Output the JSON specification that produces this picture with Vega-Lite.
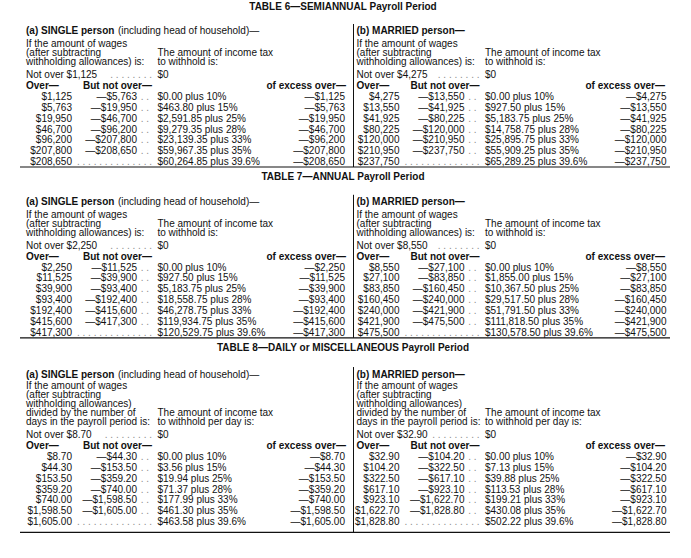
{
"$schema": "https://vega.github.io/schema/vega-lite/v6.json",
"width": 650, "height": 558, "autosize": "none",
"padding": {"left": 20, "right": 21, "top": 0, "bottom": 0},
"background": "white",
"config": {"view": {"stroke": null}, "text": {"font": "Liberation Sans", "fontSize": 10, "color": "#111", "baseline": "middle"}, "rule": {"color": "#111"}},
"datasets": {
"h": [
{"table":6,"status":"single","title":"TABLE 6—SEMIANNUAL Payroll Period","who":"(a) SINGLE person","who2":"(including head of household)—","wages":["If the amount of wages","(after subtracting","withholding allowances) is:"],"taxhdr":["The amount of income tax","to withhold is:"],"nov":"Not over $1,125","zero":"$0"},
{"table":6,"status":"married","title":"","who":"(b) MARRIED person—","who2":"","wages":["If the amount of wages","(after subtracting","withholding allowances) is:"],"taxhdr":["The amount of income tax","to withhold is:"],"nov":"Not over $4,275","zero":"$0"},
{"table":7,"status":"single","title":"TABLE 7—ANNUAL Payroll Period","who":"(a) SINGLE person","who2":"(including head of household)—","wages":["If the amount of wages","(after subtracting","withholding allowances) is:"],"taxhdr":["The amount of income tax","to withhold is:"],"nov":"Not over $2,250","zero":"$0"},
{"table":7,"status":"married","title":"","who":"(b) MARRIED person—","who2":"","wages":["If the amount of wages","(after subtracting","withholding allowances) is:"],"taxhdr":["The amount of income tax","to withhold is:"],"nov":"Not over $8,550","zero":"$0"},
{"table":8,"status":"single","title":"TABLE 8—DAILY or MISCELLANEOUS Payroll Period","who":"(a) SINGLE person","who2":"(including head of household)—","wages":["If the amount of wages","(after subtracting","withholding allowances)","divided by the number of","days in the payroll period is:"],"taxhdr":["The amount of income tax","to withhold per day is:"],"nov":"Not over $8.70","zero":"$0"},
{"table":8,"status":"married","title":"","who":"(b) MARRIED person—","who2":"","wages":["If the amount of wages"," (after subtracting","withholding allowances)","divided by the number of","days in the payroll period is:"],"taxhdr":["The amount of income tax","to withhold per day is:"],"nov":"Not over $32.90","zero":"$0"}
],
"b": [
{"table":6,"status":"single","bracket":1,"over":"$1,125","notover":"—$5,763","tax":"$0.00 plus 10%","excess":"—$1,125"},
{"table":6,"status":"single","bracket":2,"over":"$5,763","notover":"—$19,950","tax":"$463.80 plus 15%","excess":"—$5,763"},
{"table":6,"status":"single","bracket":3,"over":"$19,950","notover":"—$46,700","tax":"$2,591.85 plus 25%","excess":"—$19,950"},
{"table":6,"status":"single","bracket":4,"over":"$46,700","notover":"—$96,200","tax":"$9,279.35 plus 28%","excess":"—$46,700"},
{"table":6,"status":"single","bracket":5,"over":"$96,200","notover":"—$207,800","tax":"$23,139.35 plus 33%","excess":"—$96,200"},
{"table":6,"status":"single","bracket":6,"over":"$207,800","notover":"—$208,650","tax":"$59,967.35 plus 35%","excess":"—$207,800"},
{"table":6,"status":"single","bracket":7,"over":"$208,650","notover":"","tax":"$60,264.85 plus 39.6%","excess":"—$208,650"},
{"table":6,"status":"married","bracket":1,"over":"$4,275","notover":"—$13,550","tax":"$0.00 plus 10%","excess":"—$4,275"},
{"table":6,"status":"married","bracket":2,"over":"$13,550","notover":"—$41,925","tax":"$927.50 plus 15%","excess":"—$13,550"},
{"table":6,"status":"married","bracket":3,"over":"$41,925","notover":"—$80,225","tax":"$5,183.75 plus 25%","excess":"—$41,925"},
{"table":6,"status":"married","bracket":4,"over":"$80,225","notover":"—$120,000","tax":"$14,758.75 plus 28%","excess":"—$80,225"},
{"table":6,"status":"married","bracket":5,"over":"$120,000","notover":"—$210,950","tax":"$25,895.75 plus 33%","excess":"—$120,000"},
{"table":6,"status":"married","bracket":6,"over":"$210,950","notover":"—$237,750","tax":"$55,909.25 plus 35%","excess":"—$210,950"},
{"table":6,"status":"married","bracket":7,"over":"$237,750","notover":"","tax":"$65,289.25 plus 39.6%","excess":"—$237,750"},
{"table":7,"status":"single","bracket":1,"over":"$2,250","notover":"—$11,525","tax":"$0.00 plus 10%","excess":"—$2,250"},
{"table":7,"status":"single","bracket":2,"over":"$11,525","notover":"—$39,900","tax":"$927.50 plus 15%","excess":"—$11,525"},
{"table":7,"status":"single","bracket":3,"over":"$39,900","notover":"—$93,400","tax":"$5,183.75 plus 25%","excess":"—$39,900"},
{"table":7,"status":"single","bracket":4,"over":"$93,400","notover":"—$192,400","tax":"$18,558.75 plus 28%","excess":"—$93,400"},
{"table":7,"status":"single","bracket":5,"over":"$192,400","notover":"—$415,600","tax":"$46,278.75 plus 33%","excess":"—$192,400"},
{"table":7,"status":"single","bracket":6,"over":"$415,600","notover":"—$417,300","tax":"$119,934.75 plus 35%","excess":"—$415,600"},
{"table":7,"status":"single","bracket":7,"over":"$417,300","notover":"","tax":"$120,529.75 plus 39.6%","excess":"—$417,300"},
{"table":7,"status":"married","bracket":1,"over":"$8,550","notover":"—$27,100","tax":"$0.00 plus 10%","excess":"—$8,550"},
{"table":7,"status":"married","bracket":2,"over":"$27,100","notover":"—$83,850","tax":"$1,855.00 plus 15%","excess":"—$27,100"},
{"table":7,"status":"married","bracket":3,"over":"$83,850","notover":"—$160,450","tax":"$10,367.50 plus 25%","excess":"—$83,850"},
{"table":7,"status":"married","bracket":4,"over":"$160,450","notover":"—$240,000","tax":"$29,517.50 plus 28%","excess":"—$160,450"},
{"table":7,"status":"married","bracket":5,"over":"$240,000","notover":"—$421,900","tax":"$51,791.50 plus 33%","excess":"—$240,000"},
{"table":7,"status":"married","bracket":6,"over":"$421,900","notover":"—$475,500","tax":"$111,818.50 plus 35%","excess":"—$421,900"},
{"table":7,"status":"married","bracket":7,"over":"$475,500","notover":"","tax":"$130,578.50 plus 39.6%","excess":"—$475,500"},
{"table":8,"status":"single","bracket":1,"over":"$8.70","notover":"—$44.30","tax":"$0.00 plus 10%","excess":"—$8.70"},
{"table":8,"status":"single","bracket":2,"over":"$44.30","notover":"—$153.50","tax":"$3.56 plus 15%","excess":"—$44.30"},
{"table":8,"status":"single","bracket":3,"over":"$153.50","notover":"—$359.20","tax":"$19.94 plus 25%","excess":"—$153.50"},
{"table":8,"status":"single","bracket":4,"over":"$359.20","notover":"—$740.00","tax":"$71.37 plus 28%","excess":"—$359.20"},
{"table":8,"status":"single","bracket":5,"over":"$740.00","notover":"—$1,598.50","tax":"$177.99 plus 33%","excess":"—$740.00"},
{"table":8,"status":"single","bracket":6,"over":"$1,598.50","notover":"—$1,605.00","tax":"$461.30 plus 35%","excess":"—$1,598.50"},
{"table":8,"status":"single","bracket":7,"over":"$1,605.00","notover":"","tax":"$463.58 plus 39.6%","excess":"—$1,605.00"},
{"table":8,"status":"married","bracket":1,"over":"$32.90","notover":"—$104.20","tax":"$0.00 plus 10%","excess":"—$32.90"},
{"table":8,"status":"married","bracket":2,"over":"$104.20","notover":"—$322.50","tax":"$7.13 plus 15%","excess":"—$104.20"},
{"table":8,"status":"married","bracket":3,"over":"$322.50","notover":"—$617.10","tax":"$39.88 plus 25%","excess":"—$322.50"},
{"table":8,"status":"married","bracket":4,"over":"$617.10","notover":"—$923.10","tax":"$113.53 plus 28%","excess":"—$617.10"},
{"table":8,"status":"married","bracket":5,"over":"$923.10","notover":"—$1,622.70","tax":"$199.21 plus 33%","excess":"—$923.10"},
{"table":8,"status":"married","bracket":6,"over":"$1,622.70","notover":"—$1,828.80","tax":"$430.08 plus 35%","excess":"—$1,622.70"},
{"table":8,"status":"married","bracket":7,"over":"$1,828.80","notover":"","tax":"$502.22 plus 39.6%","excess":"—$1,828.80"}
]
},
"layer": [
{"layer": [
{"data":{"name":"h"},"transform":[{"filter":"datum.table==6 && datum.status=='single'"}],"mark":{"type":"text","align":"center","dx":317,"fontWeight":"bold"},"encoding":{"x":{"field":"status","type":"nominal","axis":null,"scale":{"type":"point","domain":["single","married"],"range":[6,333.5],"padding":0}},"y":{"datum":-7.2,"type":"quantitative","axis":null,"scale":{"domain":[1,7],"range":[96.7,162.3],"nice":false,"zero":false}},"text":{"field":"title"}}},
{"data":{"name":"h"},"transform":[{"filter":"datum.table==6 && datum.status=='single'"}],"mark":{"type":"text","align":"left","dx":0,"fontWeight":"bold"},"encoding":{"x":{"field":"status","type":"nominal","axis":null},"y":{"datum":-5.0,"type":"quantitative","axis":null},"text":{"field":"who"}}},
{"data":{"name":"h"},"transform":[{"filter":"datum.table==6 && datum.status=='married'"}],"mark":{"type":"text","align":"left","dx":3,"fontWeight":"bold"},"encoding":{"x":{"field":"status","type":"nominal","axis":null},"y":{"datum":-5.0,"type":"quantitative","axis":null},"text":{"field":"who"}}},
{"data":{"name":"h"},"transform":[{"filter":"datum.table==6 && datum.status=='single'"}],"mark":{"type":"text","align":"left","dx":92},"encoding":{"x":{"field":"status","type":"nominal","axis":null},"y":{"datum":-5.0,"type":"quantitative","axis":null},"text":{"field":"who2"}}},
{"data":{"name":"h"},"transform":[{"filter":"datum.table==6 && datum.status=='single'"}],"mark":{"type":"text","align":"left","dx":0,"lineHeight":9},"encoding":{"x":{"field":"status","type":"nominal","axis":null},"y":{"datum":-3.79,"type":"quantitative","axis":null},"text":{"field":"wages"}}},
{"data":{"name":"h"},"transform":[{"filter":"datum.table==6 && datum.status=='married'"}],"mark":{"type":"text","align":"left","dx":3,"lineHeight":9},"encoding":{"x":{"field":"status","type":"nominal","axis":null},"y":{"datum":-3.79,"type":"quantitative","axis":null},"text":{"field":"wages"}}},
{"data":{"name":"h"},"transform":[{"filter":"datum.table==6"}],"mark":{"type":"text","align":"left","dx":131.5,"lineHeight":9},"encoding":{"x":{"field":"status","type":"nominal","axis":null},"y":{"datum":-2.97,"type":"quantitative","axis":null},"text":{"field":"taxhdr"}}},
{"data":{"name":"h"},"transform":[{"filter":"datum.table==6 && datum.status=='single'"}],"mark":{"type":"text","align":"left","dx":0},"encoding":{"x":{"field":"status","type":"nominal","axis":null},"y":{"datum":-0.99,"type":"quantitative","axis":null},"text":{"field":"nov"}}},
{"data":{"name":"h"},"transform":[{"filter":"datum.table==6 && datum.status=='married'"}],"mark":{"type":"text","align":"left","dx":3},"encoding":{"x":{"field":"status","type":"nominal","axis":null},"y":{"datum":-0.99,"type":"quantitative","axis":null},"text":{"field":"nov"}}},
{"data":{"name":"h"},"transform":[{"filter":"datum.table==6"}],"mark":{"type":"text","align":"right","dx":126,"color":"#8c8c8c"},"encoding":{"x":{"field":"status","type":"nominal","axis":null},"y":{"datum":-0.99,"type":"quantitative","axis":null},"text":{"value":". . . . . . . ."}}},
{"data":{"name":"h"},"transform":[{"filter":"datum.table==6"}],"mark":{"type":"text","align":"left","dx":131.5},"encoding":{"x":{"field":"status","type":"nominal","axis":null},"y":{"datum":-0.99,"type":"quantitative","axis":null},"text":{"field":"zero"}}},
{"data":{"name":"h"},"transform":[{"filter":"datum.table==6 && datum.status=='single'"}],"mark":{"type":"text","align":"left","dx":0,"fontWeight":"bold"},"encoding":{"x":{"field":"status","type":"nominal","axis":null},"y":{"datum":0.02,"type":"quantitative","axis":null},"text":{"value":"Over—"}}},
{"data":{"name":"h"},"transform":[{"filter":"datum.table==6 && datum.status=='married'"}],"mark":{"type":"text","align":"left","dx":3,"fontWeight":"bold"},"encoding":{"x":{"field":"status","type":"nominal","axis":null},"y":{"datum":0.02,"type":"quantitative","axis":null},"text":{"value":"Over—"}}},
{"data":{"name":"h"},"transform":[{"filter":"datum.table==6"}],"mark":{"type":"text","align":"left","dx":57,"fontWeight":"bold"},"encoding":{"x":{"field":"status","type":"nominal","axis":null},"y":{"datum":0.02,"type":"quantitative","axis":null},"text":{"value":"But not over—"}}},
{"data":{"name":"h"},"transform":[{"filter":"datum.table==6 && datum.status=='single'"}],"mark":{"type":"text","align":"right","dx":320,"fontWeight":"bold"},"encoding":{"x":{"field":"status","type":"nominal","axis":null},"y":{"datum":0.02,"type":"quantitative","axis":null},"text":{"value":"of excess over—"}}},
{"data":{"name":"h"},"transform":[{"filter":"datum.table==6 && datum.status=='married'"}],"mark":{"type":"text","align":"right","dx":311.5,"fontWeight":"bold"},"encoding":{"x":{"field":"status","type":"nominal","axis":null},"y":{"datum":0.02,"type":"quantitative","axis":null},"text":{"value":"of excess over—"}}},
{"data":{"name":"b"},"transform":[{"filter":"datum.table==6"}],"mark":{"type":"text","align":"right","dx":46},"encoding":{"x":{"field":"status","type":"nominal","axis":null},"y":{"field":"bracket","type":"quantitative","axis":null},"text":{"field":"over"}}},
{"data":{"name":"b"},"transform":[{"filter":"datum.table==6"}],"mark":{"type":"text","align":"right","dx":111},"encoding":{"x":{"field":"status","type":"nominal","axis":null},"y":{"field":"bracket","type":"quantitative","axis":null},"text":{"field":"notover"}}},
{"data":{"name":"b"},"transform":[{"filter":"datum.table==6 && datum.bracket<7"}],"mark":{"type":"text","align":"right","dx":123,"color":"#8c8c8c"},"encoding":{"x":{"field":"status","type":"nominal","axis":null},"y":{"field":"bracket","type":"quantitative","axis":null},"text":{"value":". ."}}},
{"data":{"name":"b"},"transform":[{"filter":"datum.table==6 && datum.bracket==7"}],"mark":{"type":"text","align":"right","dx":126,"color":"#8c8c8c"},"encoding":{"x":{"field":"status","type":"nominal","axis":null},"y":{"field":"bracket","type":"quantitative","axis":null},"text":{"value":". . . . . . . . . . . . . ."}}},
{"data":{"name":"b"},"transform":[{"filter":"datum.table==6"}],"mark":{"type":"text","align":"left","dx":131.5},"encoding":{"x":{"field":"status","type":"nominal","axis":null},"y":{"field":"bracket","type":"quantitative","axis":null},"text":{"field":"tax"}}},
{"data":{"name":"b"},"transform":[{"filter":"datum.table==6 && datum.status=='single'"}],"mark":{"type":"text","align":"right","dx":319},"encoding":{"x":{"field":"status","type":"nominal","axis":null},"y":{"field":"bracket","type":"quantitative","axis":null},"text":{"field":"excess"}}},
{"data":{"name":"b"},"transform":[{"filter":"datum.table==6 && datum.status=='married'"}],"mark":{"type":"text","align":"right","dx":313},"encoding":{"x":{"field":"status","type":"nominal","axis":null},"y":{"field":"bracket","type":"quantitative","axis":null},"text":{"field":"excess"}}},
{"data":{"values":[{}]},"mark":{"type":"rule","strokeWidth":1.2},"encoding":{"y":{"datum":7.43,"type":"quantitative","axis":null}}},
{"data":{"values":[{}]},"mark":{"type":"rule","strokeWidth":1},"encoding":{"x":{"datum":"married","type":"nominal","axis":null},"y":{"datum":-5.65,"type":"quantitative","axis":null},"y2":{"datum":7.43}}}
]},
{"layer": [
{"data":{"name":"h"},"transform":[{"filter":"datum.table==7 && datum.status=='single'"}],"mark":{"type":"text","align":"center","dx":317,"fontWeight":"bold"},"encoding":{"x":{"field":"status","type":"nominal","axis":null,"scale":{"type":"point","domain":["single","married"],"range":[6,333.5],"padding":0}},"y":{"datum":-7.3,"type":"quantitative","axis":null,"scale":{"domain":[1,7],"range":[267.5,333.1],"nice":false,"zero":false}},"text":{"field":"title"}}},
{"data":{"name":"h"},"transform":[{"filter":"datum.table==7 && datum.status=='single'"}],"mark":{"type":"text","align":"left","dx":0,"fontWeight":"bold"},"encoding":{"x":{"field":"status","type":"nominal","axis":null},"y":{"datum":-5.0,"type":"quantitative","axis":null},"text":{"field":"who"}}},
{"data":{"name":"h"},"transform":[{"filter":"datum.table==7 && datum.status=='married'"}],"mark":{"type":"text","align":"left","dx":3,"fontWeight":"bold"},"encoding":{"x":{"field":"status","type":"nominal","axis":null},"y":{"datum":-5.0,"type":"quantitative","axis":null},"text":{"field":"who"}}},
{"data":{"name":"h"},"transform":[{"filter":"datum.table==7 && datum.status=='single'"}],"mark":{"type":"text","align":"left","dx":92},"encoding":{"x":{"field":"status","type":"nominal","axis":null},"y":{"datum":-5.0,"type":"quantitative","axis":null},"text":{"field":"who2"}}},
{"data":{"name":"h"},"transform":[{"filter":"datum.table==7 && datum.status=='single'"}],"mark":{"type":"text","align":"left","dx":0,"lineHeight":9},"encoding":{"x":{"field":"status","type":"nominal","axis":null},"y":{"datum":-3.79,"type":"quantitative","axis":null},"text":{"field":"wages"}}},
{"data":{"name":"h"},"transform":[{"filter":"datum.table==7 && datum.status=='married'"}],"mark":{"type":"text","align":"left","dx":3,"lineHeight":9},"encoding":{"x":{"field":"status","type":"nominal","axis":null},"y":{"datum":-3.79,"type":"quantitative","axis":null},"text":{"field":"wages"}}},
{"data":{"name":"h"},"transform":[{"filter":"datum.table==7"}],"mark":{"type":"text","align":"left","dx":131.5,"lineHeight":9},"encoding":{"x":{"field":"status","type":"nominal","axis":null},"y":{"datum":-2.97,"type":"quantitative","axis":null},"text":{"field":"taxhdr"}}},
{"data":{"name":"h"},"transform":[{"filter":"datum.table==7 && datum.status=='single'"}],"mark":{"type":"text","align":"left","dx":0},"encoding":{"x":{"field":"status","type":"nominal","axis":null},"y":{"datum":-0.99,"type":"quantitative","axis":null},"text":{"field":"nov"}}},
{"data":{"name":"h"},"transform":[{"filter":"datum.table==7 && datum.status=='married'"}],"mark":{"type":"text","align":"left","dx":3},"encoding":{"x":{"field":"status","type":"nominal","axis":null},"y":{"datum":-0.99,"type":"quantitative","axis":null},"text":{"field":"nov"}}},
{"data":{"name":"h"},"transform":[{"filter":"datum.table==7"}],"mark":{"type":"text","align":"right","dx":126,"color":"#8c8c8c"},"encoding":{"x":{"field":"status","type":"nominal","axis":null},"y":{"datum":-0.99,"type":"quantitative","axis":null},"text":{"value":". . . . . . . ."}}},
{"data":{"name":"h"},"transform":[{"filter":"datum.table==7"}],"mark":{"type":"text","align":"left","dx":131.5},"encoding":{"x":{"field":"status","type":"nominal","axis":null},"y":{"datum":-0.99,"type":"quantitative","axis":null},"text":{"field":"zero"}}},
{"data":{"name":"h"},"transform":[{"filter":"datum.table==7 && datum.status=='single'"}],"mark":{"type":"text","align":"left","dx":0,"fontWeight":"bold"},"encoding":{"x":{"field":"status","type":"nominal","axis":null},"y":{"datum":0.02,"type":"quantitative","axis":null},"text":{"value":"Over—"}}},
{"data":{"name":"h"},"transform":[{"filter":"datum.table==7 && datum.status=='married'"}],"mark":{"type":"text","align":"left","dx":3,"fontWeight":"bold"},"encoding":{"x":{"field":"status","type":"nominal","axis":null},"y":{"datum":0.02,"type":"quantitative","axis":null},"text":{"value":"Over—"}}},
{"data":{"name":"h"},"transform":[{"filter":"datum.table==7"}],"mark":{"type":"text","align":"left","dx":57,"fontWeight":"bold"},"encoding":{"x":{"field":"status","type":"nominal","axis":null},"y":{"datum":0.02,"type":"quantitative","axis":null},"text":{"value":"But not over—"}}},
{"data":{"name":"h"},"transform":[{"filter":"datum.table==7 && datum.status=='single'"}],"mark":{"type":"text","align":"right","dx":320,"fontWeight":"bold"},"encoding":{"x":{"field":"status","type":"nominal","axis":null},"y":{"datum":0.02,"type":"quantitative","axis":null},"text":{"value":"of excess over—"}}},
{"data":{"name":"h"},"transform":[{"filter":"datum.table==7 && datum.status=='married'"}],"mark":{"type":"text","align":"right","dx":311.5,"fontWeight":"bold"},"encoding":{"x":{"field":"status","type":"nominal","axis":null},"y":{"datum":0.02,"type":"quantitative","axis":null},"text":{"value":"of excess over—"}}},
{"data":{"name":"b"},"transform":[{"filter":"datum.table==7"}],"mark":{"type":"text","align":"right","dx":46},"encoding":{"x":{"field":"status","type":"nominal","axis":null},"y":{"field":"bracket","type":"quantitative","axis":null},"text":{"field":"over"}}},
{"data":{"name":"b"},"transform":[{"filter":"datum.table==7"}],"mark":{"type":"text","align":"right","dx":111},"encoding":{"x":{"field":"status","type":"nominal","axis":null},"y":{"field":"bracket","type":"quantitative","axis":null},"text":{"field":"notover"}}},
{"data":{"name":"b"},"transform":[{"filter":"datum.table==7 && datum.bracket<7"}],"mark":{"type":"text","align":"right","dx":123,"color":"#8c8c8c"},"encoding":{"x":{"field":"status","type":"nominal","axis":null},"y":{"field":"bracket","type":"quantitative","axis":null},"text":{"value":". ."}}},
{"data":{"name":"b"},"transform":[{"filter":"datum.table==7 && datum.bracket==7"}],"mark":{"type":"text","align":"right","dx":126,"color":"#8c8c8c"},"encoding":{"x":{"field":"status","type":"nominal","axis":null},"y":{"field":"bracket","type":"quantitative","axis":null},"text":{"value":". . . . . . . . . . . . . ."}}},
{"data":{"name":"b"},"transform":[{"filter":"datum.table==7"}],"mark":{"type":"text","align":"left","dx":131.5},"encoding":{"x":{"field":"status","type":"nominal","axis":null},"y":{"field":"bracket","type":"quantitative","axis":null},"text":{"field":"tax"}}},
{"data":{"name":"b"},"transform":[{"filter":"datum.table==7 && datum.status=='single'"}],"mark":{"type":"text","align":"right","dx":319},"encoding":{"x":{"field":"status","type":"nominal","axis":null},"y":{"field":"bracket","type":"quantitative","axis":null},"text":{"field":"excess"}}},
{"data":{"name":"b"},"transform":[{"filter":"datum.table==7 && datum.status=='married'"}],"mark":{"type":"text","align":"right","dx":313},"encoding":{"x":{"field":"status","type":"nominal","axis":null},"y":{"field":"bracket","type":"quantitative","axis":null},"text":{"field":"excess"}}},
{"data":{"values":[{}]},"mark":{"type":"rule","strokeWidth":1.2},"encoding":{"y":{"datum":7.43,"type":"quantitative","axis":null}}},
{"data":{"values":[{}]},"mark":{"type":"rule","strokeWidth":1},"encoding":{"x":{"datum":"married","type":"nominal","axis":null},"y":{"datum":-5.65,"type":"quantitative","axis":null},"y2":{"datum":7.43}}}
]},
{"layer": [
{"data":{"name":"h"},"transform":[{"filter":"datum.table==8 && datum.status=='single'"}],"mark":{"type":"text","align":"center","dx":317,"fontWeight":"bold"},"encoding":{"x":{"field":"status","type":"nominal","axis":null,"scale":{"type":"point","domain":["single","married"],"range":[6,333.5],"padding":0}},"y":{"datum":-8.97,"type":"quantitative","axis":null,"scale":{"domain":[1,7],"range":[456.7,522.3],"nice":false,"zero":false}},"text":{"field":"title"}}},
{"data":{"name":"h"},"transform":[{"filter":"datum.table==8 && datum.status=='single'"}],"mark":{"type":"text","align":"left","dx":0,"fontWeight":"bold"},"encoding":{"x":{"field":"status","type":"nominal","axis":null},"y":{"datum":-6.47,"type":"quantitative","axis":null},"text":{"field":"who"}}},
{"data":{"name":"h"},"transform":[{"filter":"datum.table==8 && datum.status=='married'"}],"mark":{"type":"text","align":"left","dx":3,"fontWeight":"bold"},"encoding":{"x":{"field":"status","type":"nominal","axis":null},"y":{"datum":-6.47,"type":"quantitative","axis":null},"text":{"field":"who"}}},
{"data":{"name":"h"},"transform":[{"filter":"datum.table==8 && datum.status=='single'"}],"mark":{"type":"text","align":"left","dx":92},"encoding":{"x":{"field":"status","type":"nominal","axis":null},"y":{"datum":-6.47,"type":"quantitative","axis":null},"text":{"field":"who2"}}},
{"data":{"name":"h"},"transform":[{"filter":"datum.table==8 && datum.status=='single'"}],"mark":{"type":"text","align":"left","dx":0,"lineHeight":9},"encoding":{"x":{"field":"status","type":"nominal","axis":null},"y":{"datum":-5.47,"type":"quantitative","axis":null},"text":{"field":"wages"}}},
{"data":{"name":"h"},"transform":[{"filter":"datum.table==8 && datum.status=='married'"}],"mark":{"type":"text","align":"left","dx":3,"lineHeight":9},"encoding":{"x":{"field":"status","type":"nominal","axis":null},"y":{"datum":-5.47,"type":"quantitative","axis":null},"text":{"field":"wages"}}},
{"data":{"name":"h"},"transform":[{"filter":"datum.table==8"}],"mark":{"type":"text","align":"left","dx":131.5,"lineHeight":9},"encoding":{"x":{"field":"status","type":"nominal","axis":null},"y":{"datum":-2.97,"type":"quantitative","axis":null},"text":{"field":"taxhdr"}}},
{"data":{"name":"h"},"transform":[{"filter":"datum.table==8 && datum.status=='single'"}],"mark":{"type":"text","align":"left","dx":0},"encoding":{"x":{"field":"status","type":"nominal","axis":null},"y":{"datum":-0.99,"type":"quantitative","axis":null},"text":{"field":"nov"}}},
{"data":{"name":"h"},"transform":[{"filter":"datum.table==8 && datum.status=='married'"}],"mark":{"type":"text","align":"left","dx":3},"encoding":{"x":{"field":"status","type":"nominal","axis":null},"y":{"datum":-0.99,"type":"quantitative","axis":null},"text":{"field":"nov"}}},
{"data":{"name":"h"},"transform":[{"filter":"datum.table==8"}],"mark":{"type":"text","align":"right","dx":126,"color":"#8c8c8c"},"encoding":{"x":{"field":"status","type":"nominal","axis":null},"y":{"datum":-0.99,"type":"quantitative","axis":null},"text":{"value":". . . . . . . . ."}}},
{"data":{"name":"h"},"transform":[{"filter":"datum.table==8"}],"mark":{"type":"text","align":"left","dx":131.5},"encoding":{"x":{"field":"status","type":"nominal","axis":null},"y":{"datum":-0.99,"type":"quantitative","axis":null},"text":{"field":"zero"}}},
{"data":{"name":"h"},"transform":[{"filter":"datum.table==8 && datum.status=='single'"}],"mark":{"type":"text","align":"left","dx":0,"fontWeight":"bold"},"encoding":{"x":{"field":"status","type":"nominal","axis":null},"y":{"datum":0.02,"type":"quantitative","axis":null},"text":{"value":"Over—"}}},
{"data":{"name":"h"},"transform":[{"filter":"datum.table==8 && datum.status=='married'"}],"mark":{"type":"text","align":"left","dx":3,"fontWeight":"bold"},"encoding":{"x":{"field":"status","type":"nominal","axis":null},"y":{"datum":0.02,"type":"quantitative","axis":null},"text":{"value":"Over—"}}},
{"data":{"name":"h"},"transform":[{"filter":"datum.table==8"}],"mark":{"type":"text","align":"left","dx":57,"fontWeight":"bold"},"encoding":{"x":{"field":"status","type":"nominal","axis":null},"y":{"datum":0.02,"type":"quantitative","axis":null},"text":{"value":"But not over—"}}},
{"data":{"name":"h"},"transform":[{"filter":"datum.table==8 && datum.status=='single'"}],"mark":{"type":"text","align":"right","dx":320,"fontWeight":"bold"},"encoding":{"x":{"field":"status","type":"nominal","axis":null},"y":{"datum":0.02,"type":"quantitative","axis":null},"text":{"value":"of excess over—"}}},
{"data":{"name":"h"},"transform":[{"filter":"datum.table==8 && datum.status=='married'"}],"mark":{"type":"text","align":"right","dx":311.5,"fontWeight":"bold"},"encoding":{"x":{"field":"status","type":"nominal","axis":null},"y":{"datum":0.02,"type":"quantitative","axis":null},"text":{"value":"of excess over—"}}},
{"data":{"name":"b"},"transform":[{"filter":"datum.table==8"}],"mark":{"type":"text","align":"right","dx":46},"encoding":{"x":{"field":"status","type":"nominal","axis":null},"y":{"field":"bracket","type":"quantitative","axis":null},"text":{"field":"over"}}},
{"data":{"name":"b"},"transform":[{"filter":"datum.table==8"}],"mark":{"type":"text","align":"right","dx":111},"encoding":{"x":{"field":"status","type":"nominal","axis":null},"y":{"field":"bracket","type":"quantitative","axis":null},"text":{"field":"notover"}}},
{"data":{"name":"b"},"transform":[{"filter":"datum.table==8 && datum.bracket<7"}],"mark":{"type":"text","align":"right","dx":123,"color":"#8c8c8c"},"encoding":{"x":{"field":"status","type":"nominal","axis":null},"y":{"field":"bracket","type":"quantitative","axis":null},"text":{"value":". ."}}},
{"data":{"name":"b"},"transform":[{"filter":"datum.table==8 && datum.bracket==7"}],"mark":{"type":"text","align":"right","dx":126,"color":"#8c8c8c"},"encoding":{"x":{"field":"status","type":"nominal","axis":null},"y":{"field":"bracket","type":"quantitative","axis":null},"text":{"value":". . . . . . . . . . . . . ."}}},
{"data":{"name":"b"},"transform":[{"filter":"datum.table==8"}],"mark":{"type":"text","align":"left","dx":131.5},"encoding":{"x":{"field":"status","type":"nominal","axis":null},"y":{"field":"bracket","type":"quantitative","axis":null},"text":{"field":"tax"}}},
{"data":{"name":"b"},"transform":[{"filter":"datum.table==8 && datum.status=='single'"}],"mark":{"type":"text","align":"right","dx":319},"encoding":{"x":{"field":"status","type":"nominal","axis":null},"y":{"field":"bracket","type":"quantitative","axis":null},"text":{"field":"excess"}}},
{"data":{"name":"b"},"transform":[{"filter":"datum.table==8 && datum.status=='married'"}],"mark":{"type":"text","align":"right","dx":313},"encoding":{"x":{"field":"status","type":"nominal","axis":null},"y":{"field":"bracket","type":"quantitative","axis":null},"text":{"field":"excess"}}},
{"data":{"values":[{}]},"mark":{"type":"rule","strokeWidth":1.2},"encoding":{"y":{"datum":7.92,"type":"quantitative","axis":null}}},
{"data":{"values":[{}]},"mark":{"type":"rule","strokeWidth":1},"encoding":{"x":{"datum":"married","type":"nominal","axis":null},"y":{"datum":-7.2,"type":"quantitative","axis":null},"y2":{"datum":7.92}}}
]}
],
"resolve": {"scale": {"y": "independent"}}
}
